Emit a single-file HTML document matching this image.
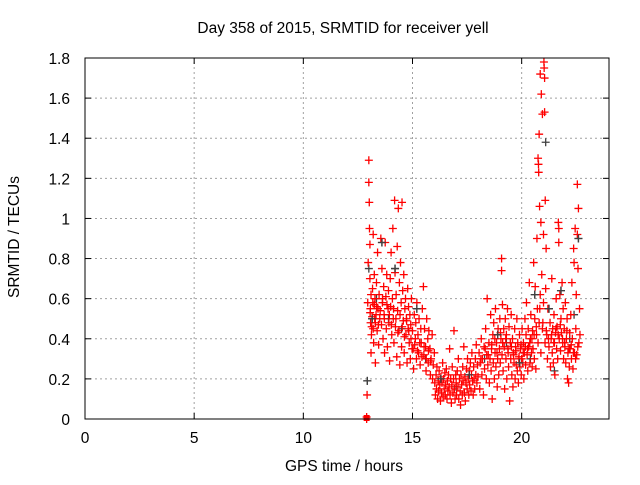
<!DOCTYPE html>
<html><head><meta charset="utf-8"><style>
body{margin:0;background:#fff}
svg text{font-family:"Liberation Sans",sans-serif;font-size:15.5px;fill:#000}
</style></head><body>
<svg id="c" width="640" height="480" xmlns="http://www.w3.org/2000/svg">
<rect width="640" height="480" fill="#fff"/>
<text x="343" y="33" text-anchor="middle">Day 358 of 2015, SRMTID for receiver yell</text>
<text x="344" y="471" text-anchor="middle">GPS time / hours</text>
<text transform="translate(19,237) rotate(-90)" text-anchor="middle">SRMTID / TECUs</text>
<g id="grid"></g><g id="ticks"></g><g id="pts"></g>
<rect x="85" y="58" width="524" height="361" fill="none" stroke="#000" stroke-width="1"/>
</svg>
<script>
const xTicks=[0,5,10,15,20];
const yTicks=[0,0.2,0.4,0.6,0.8,1,1.2,1.4,1.6,1.8];
const yTickLabels=["0","0.2","0.4","0.6","0.8","1","1.2","1.4","1.6","1.8"];
const redT=[12.9,12.9,12.92,12.95,12.97,13.0,13.0,13.02,13.03,13.05,13.05,13.07,13.08,13.1,13.1,13.12,13.15,13.17,13.2,13.2,13.22,13.25,13.25,13.28,13.3,13.3,13.33,13.35,13.38,13.4,13.42,13.45,13.47,13.5,
13.55,13.58,13.6,13.62,13.65,13.68,13.7,13.72,13.75,13.78,13.8,13.82,13.85,13.88,13.9,13.92,13.95,13.98,14.0,14.02,14.05,14.08,14.1,14.12,14.15,14.18,14.2,14.22,14.25,14.28,14.3,14.32,14.35,14.38,14.4,14.42,14.45,14.48,14.5,14.52,14.55,14.58,14.6,14.62,14.65,14.68,14.7,14.72,14.75,14.78,14.8,14.82,14.85,14.88,14.9,14.92,14.95,14.98,
15.0,15.05,15.08,15.1,15.15,15.18,15.2,15.25,15.28,15.3,15.35,15.38,15.4,15.45,15.5,15.52,15.55,15.6,15.62,15.65,15.7,15.72,15.75,15.8,15.82,15.85,15.9,15.92,15.95,16.0,
16.02,16.05,16.08,16.1,16.12,16.15,16.18,16.2,16.22,16.25,16.28,16.3,16.32,16.35,16.38,16.4,16.42,16.45,16.48,16.5,16.52,16.55,16.58,16.6,16.62,16.65,16.68,16.7,16.72,16.75,16.78,16.8,16.82,16.85,16.88,16.9,16.92,16.95,16.98,17.0,17.02,17.05,17.08,17.1,17.12,17.15,17.18,17.2,17.22,17.25,17.28,17.3,17.32,17.35,17.38,17.4,17.42,17.45,17.48,17.5,17.52,17.55,17.58,17.6,17.62,17.65,17.68,17.7,17.72,17.75,17.78,17.8,17.82,17.85,17.88,17.9,17.92,17.95,17.98,
18.0,18.05,18.08,18.1,18.15,18.18,18.2,18.25,18.28,18.3,18.35,18.38,18.4,18.42,18.45,18.5,18.52,18.55,18.58,18.6,18.62,18.65,18.68,18.7,18.72,18.75,18.78,18.8,18.82,18.85,18.88,18.9,18.92,18.95,18.98,19.0,19.02,19.05,19.08,19.08,19.1,19.12,19.15,19.18,19.2,19.22,19.25,19.28,19.3,19.32,19.35,19.38,19.4,19.42,19.45,19.48,
19.5,19.52,19.55,19.58,19.6,19.62,19.65,19.68,19.7,19.72,19.75,19.78,19.8,19.82,19.85,19.88,19.9,19.92,19.95,19.98,20.0,20.02,20.05,20.08,20.1,20.12,20.15,20.18,20.2,20.22,20.25,20.28,20.3,20.32,20.35,20.38,20.4,20.42,20.45,20.48,
20.5,20.52,20.55,20.58,20.6,20.62,20.65,20.68,20.7,20.72,20.75,20.75,20.77,20.78,20.8,20.8,20.82,20.85,20.85,20.88,20.88,20.9,20.92,20.95,20.95,21.0,21.0,21.02,21.03,21.05,21.05,21.07,21.08,21.1,21.12,21.15,21.18,21.2,
21.25,21.3,21.32,21.35,21.38,21.4,21.42,21.45,21.48,21.5,21.52,21.55,21.58,21.6,21.62,21.65,21.68,21.7,21.7,21.72,21.75,21.78,21.8,21.82,21.85,21.88,21.9,21.92,21.95,21.98,22.0,22.02,22.05,22.08,22.1,22.12,22.15,22.18,22.2,22.22,22.25,22.28,22.3,22.32,22.35,22.38,22.4,22.42,22.45,22.48,22.5,22.52,22.55,22.55,22.58,22.6,22.62,22.65,
13.06,13.13,13.18,13.27,13.36,13.44,13.52,13.63,13.71,13.83,13.94,14.03,14.13,14.24,14.33,14.43,14.53,14.63,14.73,14.83,14.93,15.03,15.13,15.23,15.33,15.43,15.53,15.63,15.73,15.83,
18.13,18.33,18.47,18.63,18.77,18.87,19.03,19.13,19.27,19.37,19.53,19.63,19.73,19.87,19.97,20.07,20.17,20.27,20.37,20.47,20.57,20.67,20.83,20.97,21.13,21.23,21.37,21.47,21.57,21.67,21.77,21.87,21.97,22.07,22.17,22.27,22.37,22.47,22.57,22.67];
const redV=[0.0,0.01,0.12,0.58,0.78,1.29,1.18,1.08,0.95,0.87,0.7,0.55,0.48,0.62,0.33,0.42,0.51,0.65,0.92,0.45,0.38,0.57,0.72,0.6,0.48,0.28,0.52,0.68,0.44,0.83,0.55,0.37,0.62,0.5,
0.9,0.47,0.75,0.58,0.4,0.66,0.52,0.33,0.88,0.61,0.45,0.72,0.36,0.55,0.64,0.48,0.29,0.7,0.56,0.83,0.42,0.6,0.95,0.5,0.38,1.09,0.73,0.46,0.62,0.31,0.86,0.54,1.05,0.44,0.68,0.27,0.78,0.58,0.36,1.08,0.64,0.49,0.72,0.33,0.55,0.6,0.42,0.5,0.28,0.65,0.45,0.56,0.38,0.52,0.3,0.47,0.6,0.35,
0.44,0.25,0.52,0.37,0.48,0.3,0.58,0.42,0.33,0.5,0.27,0.45,0.38,0.55,0.66,0.32,0.45,0.36,0.24,0.5,0.4,0.28,0.44,0.35,0.22,0.3,0.42,0.2,0.27,0.33,
0.18,0.12,0.22,0.15,0.26,0.1,0.19,0.14,0.24,0.17,0.09,0.21,0.13,0.18,0.28,0.11,0.2,0.15,0.23,0.12,0.17,0.25,0.1,0.19,0.14,0.22,0.16,0.35,0.12,0.2,0.08,0.17,0.26,0.13,0.2,0.44,0.15,0.1,0.22,0.18,0.12,0.24,0.16,0.3,0.1,0.2,0.14,0.07,0.22,0.17,0.12,0.26,0.19,0.36,0.13,0.21,0.09,0.18,0.25,0.15,0.3,0.2,0.12,0.24,0.17,0.28,0.14,0.22,0.33,0.19,0.12,0.26,0.2,0.15,0.3,0.22,0.37,0.18,0.27,
0.21,0.33,0.15,0.28,0.4,0.22,0.3,0.12,0.36,0.25,0.45,0.2,0.32,0.6,0.27,0.38,0.18,0.3,0.52,0.24,0.35,0.1,0.42,0.28,0.48,0.2,0.33,0.55,0.26,0.38,0.16,0.3,0.45,0.22,0.35,0.5,0.28,0.4,0.8,0.74,0.32,0.57,0.24,0.45,0.36,0.15,0.5,0.3,0.42,0.2,0.55,0.33,0.26,0.46,0.09,0.38,
0.3,0.52,0.22,0.4,0.16,0.33,0.28,0.45,0.2,0.36,0.27,0.5,0.24,0.38,0.18,0.31,0.42,0.26,0.35,0.22,0.3,0.45,0.28,0.38,0.2,0.33,0.5,0.27,0.42,0.58,0.32,0.24,0.45,0.36,0.68,0.28,0.4,0.52,0.33,0.26,
0.44,0.35,0.78,0.3,0.5,0.66,0.25,0.42,0.9,0.55,0.38,1.3,1.27,1.23,0.48,1.42,1.06,0.62,1.72,0.33,0.98,1.62,0.72,0.45,1.52,0.58,0.92,1.78,1.75,1.7,1.53,0.38,1.09,0.65,0.85,0.42,0.3,0.55,
0.36,0.48,0.26,0.4,0.7,0.33,0.45,0.28,0.52,0.38,0.22,0.43,0.6,0.35,0.46,0.3,0.98,0.95,0.88,0.4,0.62,0.34,0.5,0.43,0.68,0.38,0.55,0.3,0.45,0.36,0.58,0.28,0.4,0.5,0.2,0.33,0.18,0.26,0.43,0.35,0.52,0.3,0.68,0.4,0.25,0.85,0.78,0.33,0.95,0.45,0.62,0.32,1.17,0.92,0.75,1.05,0.38,0.55,
0.53,0.46,0.58,0.5,0.56,0.47,0.54,0.6,0.5,0.57,0.52,0.47,0.55,0.5,0.43,0.52,0.46,0.41,0.49,0.44,0.4,0.35,0.4,0.34,0.38,0.31,0.36,0.3,0.34,0.29,
0.3,0.35,0.32,0.37,0.4,0.33,0.43,0.38,0.4,0.35,0.36,0.32,0.34,0.3,0.37,0.33,0.36,0.35,0.38,0.4,0.42,0.46,0.55,0.48,0.44,0.4,0.42,0.38,0.45,0.42,0.47,0.4,0.38,0.44,0.35,0.37,0.33,0.3,0.36,0.42];
const grayT=[12.93,13.0,13.15,13.35,13.6,13.9,14.2,14.5,15.2,15.6,16.3,17.0,17.6,18.3,18.9,19.3,19.9,20.4,20.6,21.1,21.25,21.5,21.8,22.2,22.6,22.4];
const grayV=[0.19,0.75,0.5,0.6,0.88,0.5,0.75,0.45,0.55,0.3,0.2,0.16,0.22,0.3,0.42,0.38,0.28,0.3,0.62,1.38,0.55,0.24,0.64,0.4,0.9,0.52];

const NS="http://www.w3.org/2000/svg";
const X0=85,X1=609,Y0=419,Y1=58,XMAX=24,YMAX=1.8;
function sx(t){return X0+(X1-X0)*t/XMAX;}
function sy(v){return Y0-(Y0-Y1)*v/YMAX;}
function mk(tag,attrs,parent){const e=document.createElementNS(NS,tag);for(const k in attrs)e.setAttribute(k,attrs[k]);parent.appendChild(e);return e;}
const grid=document.getElementById('grid'),ticks=document.getElementById('ticks'),pts=document.getElementById('pts');
xTicks.forEach(t=>{const x=sx(t);
 if(t>0){const g=mk('line',{x1:x,x2:x,y1:Y0,y2:Y1,stroke:'#a0a0a0','stroke-dasharray':'2,3'},grid);
 
 }
 mk('line',{x1:x,x2:x,y1:Y0,y2:Y0-6,stroke:'#000'},ticks);
 mk('line',{x1:x,x2:x,y1:Y1,y2:Y1+6,stroke:'#000'},ticks);
 const tx=mk('text',{x:x,y:Y0+24,'text-anchor':'middle'},ticks);tx.textContent=String(t);
 
 
});
yTicks.forEach((v,i)=>{const y=sy(v);
 if(v>0&&v<YMAX){const g=mk('line',{x1:X0,x2:X1,y1:y,y2:y,stroke:'#a0a0a0','stroke-dasharray':'2,3'},grid);
 
 }
 mk('line',{x1:X0,x2:X0+6,y1:y,y2:y,stroke:'#000'},ticks);
 mk('line',{x1:X1,x2:X1-6,y1:y,y2:y,stroke:'#000'},ticks);
 const tx=mk('text',{x:X0-15,y:y+6,'text-anchor':'end'},ticks);tx.textContent=yTickLabels[i];
 
 
});
function plus(t,v,col,name){const x=sx(t),y=sy(v);
 const p=mk('path',{d:`M${x-4} ${y}H${x+4}M${x} ${y-4}V${y+4}`,stroke:col,'stroke-width':1.3,fill:'none'},pts);
 
 
}
grayT.forEach((t,i)=>plus(t,grayV[i],'#404040','gray-point'));
redT.forEach((t,i)=>plus(t,redV[i],'#ff0000','red-point'));
grayT.forEach((t,i)=>{if(i%2===0)plus(t,grayV[i],'#404040','gray-point');});
const sq=mk('rect',{x:sx(12.9)-3,y:sy(0)-4,width:6,height:6,fill:'#ff0000'},pts);


</script>
</body></html>
